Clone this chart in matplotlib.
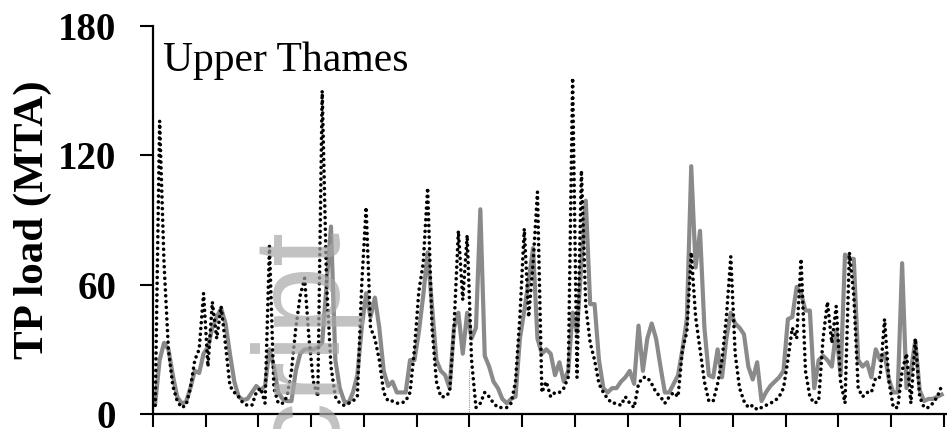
import numpy as np
import matplotlib
matplotlib.use('Agg')
import matplotlib.pyplot as plt

# ========================
# Upper Thames TP load, monthly series
# ========================

# observed load (dotted black), one value per month
observed = [4, 136, 70, 30, 13, 6, 3, 4, 12, 25, 30, 56,
            22, 52, 35, 50, 32, 13, 10, 8, 5, 4, 4, 10,
            12, 5, 78, 12, 5, 5, 8, 20, 40, 55, 63, 35,
            15, 8, 150, 60, 22, 8, 5, 4, 5, 6, 8, 60,
            96, 40, 35, 25, 10, 6, 6, 5, 5, 6, 10, 30,
            57, 70, 105, 40, 15, 8, 8, 10, 40, 85, 53, 83,
            25, 3, 5, 10, 8, 5, 3, 3, 3, 5, 15, 45,
            86, 45, 70, 103, 10, 15, 8, 10, 10, 12, 17, 156,
            17, 113, 50, 33, 25, 14, 10, 7, 5, 5, 4, 8,
            5, 3, 14, 17, 17, 14, 10, 8, 5, 8, 10, 8,
            30, 38, 75, 45, 30, 15, 6, 6, 14, 25, 45, 73,
            28, 12, 6, 3, 4, 2, 3, 4, 5, 6, 8, 12,
            25, 40, 35, 72, 20, 8, 5, 6, 35, 52, 33, 50,
            15, 5, 75, 55, 12, 8, 10, 10, 17, 17, 44, 15,
            3, 3, 20, 28, 5, 35, 8, 3, 3, 5, 8, 13]

# simulated load (solid grey)
simulated = [5, 25, 33, 30, 18, 8, 5, 5.5, 12, 20, 19, 28,
             31, 40, 45, 49, 42, 28, 15, 8, 6.5, 7, 10, 13,
             11, 13, 30, 22, 10, 7, 6, 6, 20, 28, 30, 30,
             30, 31, 33, 60, 87, 25, 12, 6, 5, 10, 18, 40,
             56, 45, 54, 40, 20, 13, 15, 10, 10, 10, 25, 25,
             38, 55, 75, 50, 25, 20, 18, 12, 40, 47, 28, 47,
             35, 40, 95, 27, 22, 15, 12, 7, 5, 7, 8, 35,
             48, 62, 77, 35, 28, 30, 28, 18, 24, 15, 20, 47,
             38, 70, 99, 51, 51, 25, 12, 10, 12, 12, 15, 17,
             20, 14, 41, 20, 35, 42, 35, 22, 10, 10, 14, 18,
             30, 44, 115, 68, 85, 40, 18, 17, 30, 17, 35, 47,
             42, 40, 37, 22, 16, 24, 6, 10, 13, 15, 17, 20,
             44, 45, 59, 56, 48, 48, 12, 25, 27, 25, 22, 39,
             18, 74, 72, 72, 25, 22, 24, 17, 30, 25, 28, 16,
             10, 10, 70, 12, 20, 34, 11, 6, 7, 7, 8, 9]

y_ticks = [0, 60, 120, 180]
n_years = 15

# small grey marker line seen in the original figure
marker_month = [71.5]
marker_top = [21]


def main():
    months = np.arange(len(observed))

    fig = plt.figure(figsize=(9.47, 4.29), dpi=100)
    ax = fig.add_axes([0.1616, 0.035, 0.8374, 0.904])

    # lines
    ax.plot(months, simulated, color='#8a8a8a', linewidth=3.0, zorder=2)
    ax.plot(months, observed, color='black', linewidth=2.6,
            linestyle=(0, (0.01, 1.6)), dash_capstyle='round', zorder=3)
    ax.vlines(marker_month, 0, marker_top, colors='#999999',
              linewidth=0.8, linestyles=(0, (1, 1)), zorder=1)

    # axes
    ax.set_xlim(-0.5, 180)
    ax.set_ylim(0, 180)
    ax.set_xticks(np.arange(n_years + 1) * 12 - 0.5)
    ax.set_xticklabels([])
    ax.set_yticks(y_ticks)
    ax.set_yticklabels([str(v) for v in y_ticks], fontsize=28,
                       fontweight='bold', family='Liberation Serif')
    ax.tick_params(axis='both', direction='out', length=9.5, width=1.5,
                   color='black')
    ax.tick_params(axis='y', pad=17)
    for side in ['top', 'right']:
        ax.spines[side].set_visible(False)
    for side in ['left', 'bottom']:
        ax.spines[side].set_linewidth(1.6)
    ax.spines['bottom'].set_clip_on(False)

    ax.set_ylabel('TP load (MTA)', fontsize=31, fontweight='bold',
                  family='Liberation Serif', labelpad=4)
    ax.text(0.012, 0.96, 'Upper Thames', transform=ax.transAxes,
            fontsize=30, family='Liberation Serif', va='top', ha='left')

    # faint "Manuscript" watermark running up the page
    fig.text(330 / 947, 1 - 222 / 429, 'Manuscript', rotation=90,
             rotation_mode='anchor', ha='right', va='baseline',
             fontsize=88, family='Liberation Sans', color='#a8a8a8',
             alpha=0.7, zorder=5)

    fig.savefig('out.png', dpi=100)
    plt.close(fig)


if __name__ == '__main__':
    main()
